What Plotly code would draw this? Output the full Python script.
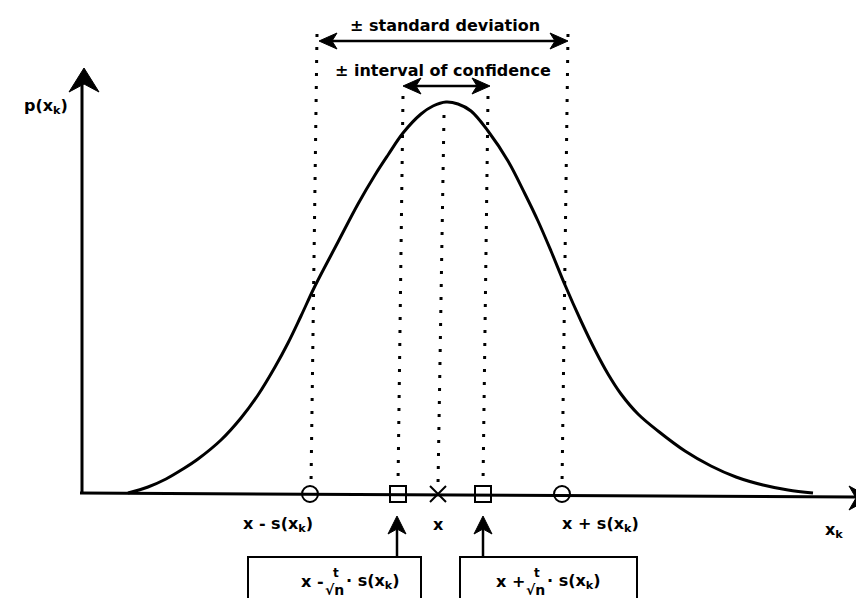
import plotly.graph_objects as go

W, H = 864, 598

# curve (pixel coords, y down)
curve_x = [120, 140, 158, 175, 190, 213, 233, 250, 267, 280, 293, 307, 330, 350, 367, 380,
           395, 413, 425, 438, 450, 463, 480, 500, 517, 530, 543, 557, 573, 587, 600, 613,
           630, 650, 677, 703, 728, 755, 780, 805]
curve_y = [485, 479, 471, 461, 451, 432, 410, 387, 359, 335, 308, 278, 234, 196, 167, 147,
           125, 106, 98, 94, 96, 103, 123, 153, 186, 213, 243, 277, 313, 342, 366, 386,
           406, 423, 443, 458, 469, 477, 482, 485]

# markers on the x axis
mark_x = [302, 390, 430, 475, 554]
mark_symbol = ["circle-open", "square-open", "x-thin-open", "square-open", "circle-open"]
base_y = 486

# dotted guides: top x, bottom x, top y
guide_top_x = [309, 395, 436, 480, 560]
guide_bot_x = [303, 390, 430, 475, 554]
guide_top_y = [26, 88, 107, 88, 26]

# axis labels under the axis
axis_labels = ["x - s(x<sub>k</sub>)", "x", "x + s(x<sub>k</sub>)"]
axis_label_x = [270, 430, 592]

font = dict(family="DejaVu Sans, Verdana", size=15, color="black", weight="bold")

fig = go.Figure()

# dotted guide lines
for xt, xb, yt in zip(guide_top_x, guide_bot_x, guide_top_y):
    fig.add_trace(go.Scatter(x=[xt, xb], y=[yt, base_y - 9], mode="lines",
                             line=dict(color="black", width=3, dash="3px,10px"),
                             hoverinfo="skip", showlegend=False))

# axes
fig.add_shape(type="line", x0=74, y0=486, x1=74, y1=75, line=dict(color="black", width=3))
fig.add_shape(type="line", x0=72, y0=485, x1=850, y1=489, line=dict(color="black", width=3))


def arrowhead(tx, ty, dx, dy, length=22, half=14, notch=7):
    # filled concave arrowhead pointing in direction (dx, dy)
    px, py = -dy, dx
    bx, by = tx - dx * length, ty - dy * length
    nx, ny = tx - dx * (length - notch), ty - dy * (length - notch)
    path = (f"M {tx},{ty} L {bx + px * half},{by + py * half} L {nx},{ny} "
            f"L {bx - px * half},{by - py * half} Z")
    fig.add_shape(type="path", path=path, fillcolor="black", line=dict(color="black", width=1))


arrowhead(76, 60, 0, -1, length=24, half=15, notch=8)
arrowhead(863, 490, 1, 0, length=22, half=12, notch=7)

# double arrows at top
fig.add_shape(type="line", x0=316, y0=33, x1=555, y1=33, line=dict(color="black", width=2.5))
arrowhead(311, 33, -1, 0, length=18, half=8, notch=5)
arrowhead(560, 33, 1, 0, length=18, half=8, notch=5)
fig.add_shape(type="line", x0=400, y0=78, x1=477, y1=78, line=dict(color="black", width=2.5))
arrowhead(395, 78, -1, 0, length=18, half=8, notch=5)
arrowhead(482, 78, 1, 0, length=18, half=8, notch=5)

# arrows up from the boxes
for ax in [389, 475]:
    fig.add_shape(type="line", x0=ax, y0=549, x1=ax, y1=520, line=dict(color="black", width=2.5))
    arrowhead(ax, 508, 0, -1, length=18, half=9, notch=5)

# boxes
fig.add_shape(type="rect", x0=240, y0=549, x1=413, y1=602, line=dict(color="black", width=2))
fig.add_shape(type="rect", x0=452, y0=549, x1=629, y1=602, line=dict(color="black", width=2))

# curve
fig.add_trace(go.Scatter(x=curve_x, y=curve_y, mode="lines",
                         line=dict(color="black", width=3, shape="spline", smoothing=1.0),
                         hoverinfo="skip", showlegend=False))

# axis markers
fig.add_trace(go.Scatter(x=mark_x, y=[base_y] * len(mark_x), mode="markers",
                         marker=dict(symbol=mark_symbol, size=16, color="black",
                                     line=dict(color="black", width=2)),
                         hoverinfo="skip", showlegend=False))


# texts
def label(x, y, text, size=15, anchor="center"):
    fig.add_annotation(x=x, y=y, text=text, showarrow=False,
                       font=dict(font, size=size), xanchor=anchor, yanchor="middle")


label(437, 17, "± standard deviation", 16)
label(435, 62, "± interval of confidence", 16)
label(38, 98, "p(x<sub>k</sub>)", 16)
for lx, lt in zip(axis_label_x, axis_labels):
    label(lx, 516, lt, 16)
label(826, 522, "x<sub>k</sub>", 16)

# box formulas
for cx, sign in [(327, "-"), (528, "+")]:
    label(cx - 9, 573, f"x {sign}", 16, "right")
    label(cx + 1, 565, "t", 12)
    label(cx - 1, 582, "√n", 14)
    label(cx + 9, 573, "· s(x<sub>k</sub>)", 16, "left")

fig.update_layout(
    width=W, height=H,
    margin=dict(l=0, r=0, t=0, b=0),
    paper_bgcolor="white", plot_bgcolor="white",
    xaxis=dict(range=[0, W], visible=False, fixedrange=True),
    yaxis=dict(range=[H, 0], visible=False, fixedrange=True),
    showlegend=False,
)

fig.write_html("out.html")
